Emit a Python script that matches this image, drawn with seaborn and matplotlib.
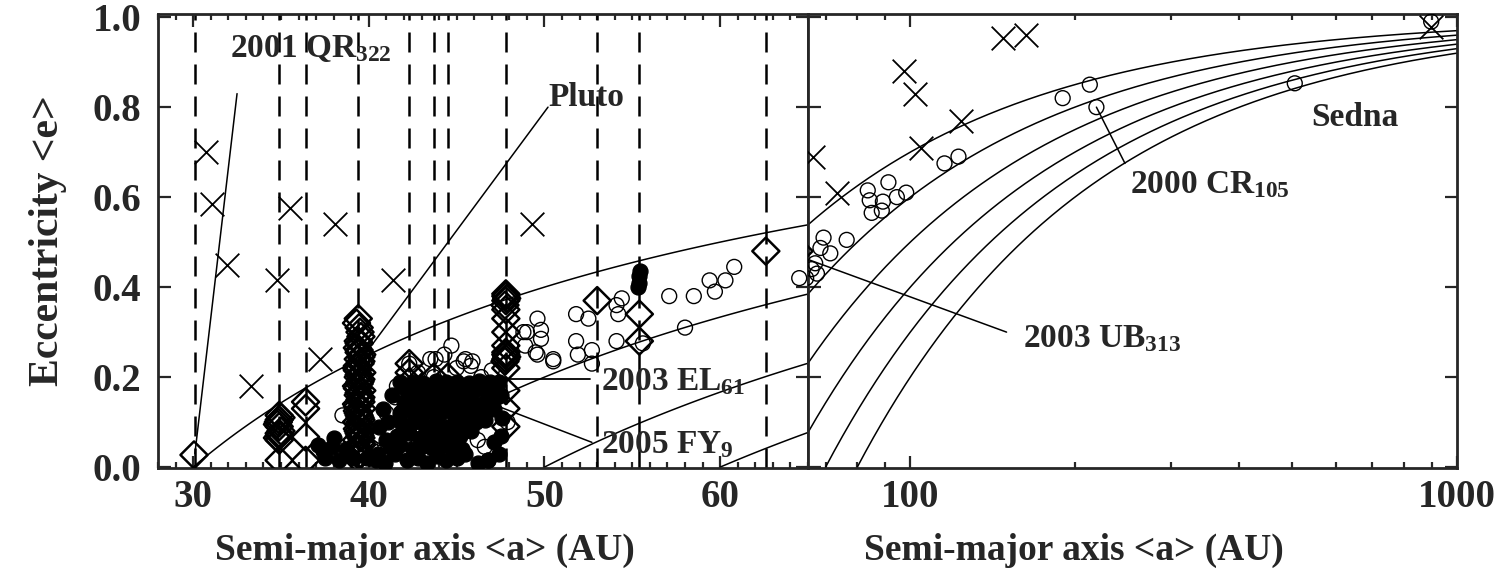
import numpy as np
import matplotlib
matplotlib.use('Agg')
import matplotlib.pyplot as plt
import matplotlib.ticker as mticker
import seaborn as sns

# ==========================
# 1. Data
# ==========================

# mean-motion resonances with Neptune (AU), dashed verticals in the left panel
resonance_a = [30.1, 34.9, 36.4, 39.4, 42.3, 43.7, 44.5, 47.8, 53.0, 55.4, 62.6]

# perihelion distances of the constant-q curves e = 1 - q/a
q_left = [30, 40, 50, 60]
q_right = [30, 40, 50, 60, 70, 80]

# crosses (scattered, high-e objects)
cross_a = [30.75, 31.1, 31.9, 33.3, 34.8, 35.5, 37.2, 38.1, 41.4, 49.3,
           66.4, 73.3, 97.2, 102.0, 104.8, 124.0, 148.0, 163.0, 897.0]
cross_e = [0.70, 0.585, 0.45, 0.18, 0.415, 0.575, 0.24, 0.54, 0.415, 0.54,
           0.69, 0.61, 0.88, 0.83, 0.71, 0.77, 0.953, 0.96, 0.978]

# open circles
open_a = [49.6, 51.8, 52.5, 54.1, 54.2, 54.4, 57.1, 58.5, 59.4, 59.7,
          60.3, 60.8, 64.5, 49.0, 49.8, 49.6, 50.5, 51.8, 51.9, 52.7,
          52.7, 54.1, 55.6, 58.0, 48.8, 49.8, 48.9, 49.5, 50.5,
          44.3, 45.4, 45.8, 47.0, 43.5, 45.5, 45.9, 43.8, 41.6, 41.5,
          40.3, 40.6, 45.0, 47.9, 38.5, 39.8, 40.1, 42.8, 46.4, 41.0,
          46.2, 46.6, 44.7, 42.3, 43.7,
          83.6, 91.2, 84.3, 89.1, 94.5, 98.3, 85.0, 88.7, 76.5, 69.4,
          68.5, 71.4, 67.0, 67.5, 66.0, 115.5, 122.5, 190.0, 213.0, 219.0,
          505.0, 897.0]
open_e = [0.33, 0.34, 0.33, 0.36, 0.34, 0.375, 0.38, 0.38, 0.415, 0.39,
          0.415, 0.445, 0.42, 0.30, 0.285, 0.25, 0.235, 0.28, 0.25, 0.26,
          0.23, 0.28, 0.275, 0.31, 0.30, 0.305, 0.27, 0.255, 0.24,
          0.25, 0.235, 0.225, 0.215, 0.24, 0.24, 0.235, 0.24, 0.18, 0.155,
          0.04, 0.065, 0.22, 0.10, 0.115, 0.078, 0.045, 0.21, 0.20, 0.12,
          0.06, 0.045, 0.27, 0.23, 0.20,
          0.615, 0.633, 0.593, 0.59, 0.60, 0.61, 0.565, 0.57, 0.505, 0.51,
          0.487, 0.475, 0.453, 0.43, 0.44, 0.675, 0.69, 0.82, 0.85, 0.80,
          0.853, 0.99]

# filled circles (dynamically cold classical belt)
filled_a = [40.9, 41.5, 42.2, 42.8, 43.3, 43.9, 44.4, 45.0, 45.5, 46.2, 46.8,
            41.2, 41.8, 42.5, 43.1, 43.6, 44.2, 44.7, 45.3,
            41.6, 42.3, 42.9, 43.4, 44.0, 44.6, 45.2, 45.8,
            41.9, 42.6, 43.2, 43.8, 44.3, 44.9, 45.5, 46.1, 46.6,
            41.8, 42.4, 43.0, 43.6, 44.1, 44.7, 45.3, 45.9, 46.5, 47.1,
            42.0, 42.7, 43.3, 43.9, 44.5, 45.0, 45.6, 46.2, 46.8, 47.3,
            42.2, 42.9, 43.5, 44.2, 44.8, 45.4, 46.0, 46.6, 47.2,
            41.8, 42.5, 43.1, 43.8, 44.4, 45.0, 45.7, 46.3, 46.9, 47.4,
            37.1, 37.5, 37.9, 38.3, 38.7, 39.1, 38.0, 37.4, 39.9, 40.5,
            40.6, 41.0, 40.8, 41.3, 41.1, 40.4, 47.5, 47.6, 47.5, 47.4,
            47.1, 46.8, 55.4, 55.4, 55.45, 55.35]
filled_e = [0.01, 0.03, 0.015, 0.02, 0.01, 0.025, 0.015, 0.02, 0.03, 0.01, 0.015,
            0.045, 0.05, 0.04, 0.048, 0.042, 0.05, 0.045, 0.04,
            0.07, 0.075, 0.065, 0.072, 0.068, 0.075, 0.07, 0.08,
            0.095, 0.1, 0.092, 0.098, 0.09, 0.1, 0.095, 0.1, 0.105,
            0.12, 0.125, 0.118, 0.122, 0.12, 0.127, 0.12, 0.125, 0.12, 0.13,
            0.145, 0.15, 0.142, 0.148, 0.145, 0.15, 0.145, 0.14, 0.15, 0.155,
            0.17, 0.168, 0.172, 0.17, 0.175, 0.168, 0.172, 0.17, 0.175,
            0.19, 0.19, 0.188, 0.192, 0.19, 0.19, 0.188, 0.192, 0.19, 0.19,
            0.05, 0.02, 0.045, 0.015, 0.04, 0.02, 0.065, 0.035, 0.02, 0.03,
            0.09, 0.06, 0.13, 0.16, 0.10, 0.015, 0.16, 0.11, 0.07, 0.03,
            0.055, 0.015, 0.41, 0.425, 0.435, 0.40]

# diamonds (resonant objects)
res_a = [30.05,
         34.9, 34.9, 34.9, 34.9, 34.9, 34.9,
         34.8, 35.0, 34.8, 35.0, 34.9, 34.85,
         36.4, 36.4, 36.4, 36.4,
         39.3, 39.5, 39.4, 39.6, 39.3, 39.5, 39.4, 39.6, 39.3, 39.5,
         39.4, 39.6, 39.3, 39.5, 39.4, 39.6, 39.3, 39.5, 39.4, 39.6,
         39.3, 39.5, 39.4, 39.6, 39.45, 39.4, 39.5, 39.3,
         39.35, 39.55, 39.45, 39.35, 39.55, 39.45, 39.35, 39.55, 39.45,
         39.45, 39.35, 39.55, 39.45, 39.35, 39.55, 39.45, 39.35, 39.55, 39.45,
         39.35, 39.55, 39.45, 39.35, 39.55, 39.45, 39.35, 39.55, 39.45, 39.4,
         42.3, 42.3, 42.3, 42.3, 42.3, 42.3,
         43.7, 43.7, 44.5,
         47.8, 47.8, 47.8, 47.8, 47.8, 47.8, 47.8, 47.8, 47.8, 47.8, 47.8, 47.8,
         47.75, 47.85, 47.8, 47.75, 47.85, 47.8,
         53.0, 55.4, 55.4, 62.6]
res_e = [0.027,
         0.015, 0.06, 0.075, 0.09, 0.105, 0.115,
         0.065, 0.08, 0.095, 0.11, 0.07, 0.10,
         0.015, 0.067, 0.13, 0.145,
         0.02, 0.03, 0.04, 0.05, 0.06, 0.07, 0.08, 0.09, 0.10, 0.11,
         0.12, 0.13, 0.14, 0.15, 0.16, 0.17, 0.18, 0.19, 0.20, 0.21,
         0.22, 0.23, 0.24, 0.25, 0.26, 0.28, 0.30, 0.32,
         0.035, 0.065, 0.095, 0.125, 0.155, 0.185, 0.215, 0.245, 0.275,
         0.025, 0.045, 0.055, 0.075, 0.085, 0.105, 0.115, 0.135, 0.145, 0.165,
         0.175, 0.195, 0.205, 0.225, 0.235, 0.255, 0.265, 0.29, 0.31, 0.33,
         0.10, 0.13, 0.16, 0.19, 0.21, 0.23,
         0.17, 0.20, 0.20,
         0.09, 0.13, 0.17, 0.22, 0.24, 0.25, 0.27, 0.30, 0.33, 0.35, 0.37, 0.385,
         0.235, 0.245, 0.255, 0.36, 0.375, 0.38,
         0.37, 0.28, 0.34, 0.48]

# ==========================
# 2. Style
# ==========================

sns.set_style('ticks')
plt.rcParams['font.family'] = ['Liberation Serif', 'DejaVu Serif']
plt.rcParams['font.weight'] = 'bold'
plt.rcParams['mathtext.fontset'] = 'custom'
plt.rcParams['mathtext.rm'] = 'Liberation Serif:bold'
plt.rcParams['mathtext.bf'] = 'Liberation Serif:bold'
plt.rcParams['mathtext.default'] = 'bf'

W, H = 1508, 580
fig = plt.figure(figsize=(W / 100, H / 100), dpi=100)
ax_l = fig.add_axes([158 / W, 1 - 468 / H, 650 / W, 454 / H])
ax_r = fig.add_axes([808 / W, 1 - 468 / H, 649 / W, 454 / H])


def draw_points(ax):
    sns.scatterplot(x=filled_a, y=filled_e, ax=ax, marker='o', s=115,
                    color='black', edgecolor='black', linewidth=1.0, zorder=3)
    sns.scatterplot(x=open_a, y=open_e, ax=ax, marker='o', s=115,
                    facecolor='none', edgecolor='black', linewidth=1.0, zorder=3)
    sns.scatterplot(x=res_a, y=res_e, ax=ax, marker='D', s=190,
                    facecolor='none', edgecolor='black', linewidth=1.8, zorder=4)
    sns.scatterplot(x=cross_a, y=cross_e, ax=ax, marker='x', s=290,
                    color='black', linewidth=1.3, zorder=4)


# ==========================
# 3. Left panel (linear a)
# ==========================

for a_res in resonance_a:
    ax_l.axvline(a_res, color='black', lw=1.8, dashes=(8, 4.8), zorder=2)

for q in q_left:
    a = np.linspace(q, 65, 100)
    ax_l.plot(a, 1 - q / a, color='black', lw=1.1, zorder=2)

draw_points(ax_l)

# labels with pointer lines
ax_l.plot([32.5, 30.1], [0.83, 0.03], color='black', lw=1.1)
ax_l.text(32.1, 0.93, '2001 QR$_{322}$', fontsize=24, va='center')
ax_l.plot([50.2, 40.15], [0.80, 0.27], color='black', lw=1.1)
ax_l.text(50.2, 0.822, 'Pluto', fontsize=24, va='center')
ax_l.plot([43.3, 52.6], [0.195, 0.195], color='black', lw=1.3, zorder=2.5)
ax_l.text(53.2, 0.19, '2003 EL$_{61}$', fontsize=24, va='center')
ax_l.plot([45.7, 52.7], [0.16, 0.055], color='black', lw=1.1, zorder=2.5)
ax_l.text(53.2, 0.05, '2005 FY$_{9}$', fontsize=24, va='center')

ax_l.set_xlim(28, 65)
ax_l.set_ylim(-0.002, 1.007)
ax_l.xaxis.set_major_locator(mticker.MultipleLocator(10))
ax_l.xaxis.set_minor_locator(mticker.MultipleLocator(1))
ax_l.yaxis.set_major_locator(mticker.MultipleLocator(0.2))
ax_l.yaxis.set_major_formatter(mticker.FormatStrFormatter('%.1f'))
ax_l.set_ylabel('Eccentricity <e>', fontsize=30, fontweight='bold')
ax_l.yaxis.set_label_coords(-0.14, 0.5)

# ==========================
# 4. Right panel (log a)
# ==========================

for q in q_right:
    a = np.geomspace(max(q, 65), 1000, 300)
    ax_r.plot(a, 1 - q / a, color='black', lw=1.1, zorder=2)

draw_points(ax_r)

ax_r.plot([219, 247], [0.80, 0.675], color='black', lw=1.1)
ax_r.text(252, 0.627, '2000 CR$_{105}$', fontsize=24, va='center')
ax_r.text(542, 0.778, 'Sedna', fontsize=24, va='center')
ax_r.plot([65.5, 150], [0.46, 0.30], color='black', lw=1.1, zorder=5)
ax_r.text(161, 0.285, '2003 UB$_{313}$', fontsize=24, va='center')

ax_r.set_xscale('log')
ax_r.set_xlim(65, 1000)
ax_r.set_ylim(-0.002, 1.007)
ax_r.xaxis.set_major_locator(mticker.FixedLocator([100, 1000]))
ax_r.xaxis.set_major_formatter(mticker.FuncFormatter(lambda v, _: f'{v:g}'))
ax_r.xaxis.set_minor_locator(mticker.LogLocator(base=10, subs=np.arange(2, 10)))
ax_r.xaxis.set_minor_formatter(mticker.NullFormatter())
ax_r.yaxis.set_major_locator(mticker.MultipleLocator(0.2))
ax_r.tick_params(axis='y', labelleft=False)

# ==========================
# 5. Shared frame / ticks
# ==========================

for ax in (ax_l, ax_r):
    ax.set_xlabel('Semi-major axis <a> (AU)', fontsize=27, fontweight='bold')
    ax.xaxis.set_label_coords(0.41, -0.142)
    ax.tick_params(which='both', direction='in', top=True, right=True, width=1.6,
                   labelsize=28)
    ax.tick_params(axis='x', pad=8)
    ax.tick_params(axis='y', pad=12)
    ax.tick_params(which='major', length=9)
    ax.tick_params(which='minor', length=4)
    for sp in ax.spines.values():
        sp.set_linewidth(2.0)
    ax.set_facecolor('white')
    for lab in ax.get_xticklabels() + ax.get_yticklabels():
        lab.set_fontweight('bold')

fig.savefig('out.png', dpi=100, facecolor='white')
plt.close(fig)
